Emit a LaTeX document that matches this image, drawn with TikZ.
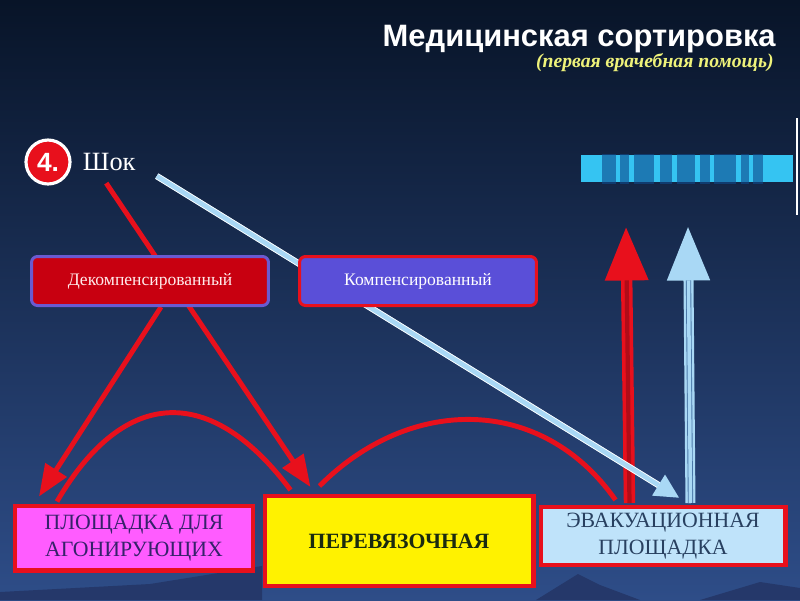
\documentclass[tikz,border=0pt]{standalone}
\usepackage{fontspec}
\setmainfont{Liberation Serif}
\newfontfamily\headfont{Liberation Sans}
\usetikzlibrary{positioning,shapes,arrows.meta}

\definecolor{bgtop}{HTML}{081428}
\definecolor{bgmid}{HTML}{0D2C5C}
\definecolor{bgbottom}{HTML}{2E4D88}
\definecolor{mountain}{HTML}{25386A}
\definecolor{sortred}{HTML}{E8101C}
\definecolor{shaftred}{HTML}{B00C18}
\definecolor{decompfill}{HTML}{C80010}
\definecolor{decompline}{HTML}{6A5AD0}
\definecolor{compfill}{HTML}{5A4FD8}
\definecolor{agonfill}{HTML}{FF5CFF}
\definecolor{agontext}{HTML}{36226A}
\definecolor{perevtext}{HTML}{1A2A10}
\definecolor{evacfill}{HTML}{BFE3FA}
\definecolor{evactext}{HTML}{284060}
\definecolor{paleblue}{HTML}{A9D8F5}
\definecolor{steel}{HTML}{4A78A8}
\definecolor{bannerblue}{HTML}{35C4F2}
\definecolor{bannerink}{HTML}{0E4A8C}
\definecolor{subyellow}{HTML}{EEF27A}

\pgfdeclarelayer{bg}
\pgfdeclarelayer{lines}
\pgfsetlayers{bg,lines,main}

\begin{document}
\begin{tikzpicture}
  [x=0.02cm, y=-0.02cm,
   every node/.style={inner sep=0pt, align=center},
   menu/.style={draw, rounded corners=3.4pt, line width=1.7pt, minimum width=4.74cm,
     minimum height=0.98cm, font=\fontsize{10}{12}\selectfont},
   site/.style={draw=sortred, line width=2.3pt, font=\fontsize{12.4}{15.4}\selectfont},
   redarrow/.style={draw=sortred, line width=2.8pt, -{Triangle[length=18pt,width=14pt]}},
   redarc/.style={draw=sortred, line width=2.8pt},
   bigtip/.style={-{Triangle[length=31pt,width=23pt]}}]

  \useasboundingbox (0,0) rectangle (800,600);

  % background and hills
  \begin{pgfonlayer}{bg}
    \shade[top color=bgtop, middle color=bgmid, bottom color=bgbottom] (0,0) rectangle (800,600);
    \fill[mountain] (0,600) -- (0,592) -- (150,584) -- (262,566) -- (262,600) -- cycle;
    \fill[mountain] (536,600) -- (578,574) -- (600,585) -- (640,600) -- cycle;
    \fill[mountain] (700,600) -- (760,582) -- (800,588) -- (800,600) -- cycle;
  \end{pgfonlayer}

  % heading
  \node[anchor=base east, text=white, font=\headfont\bfseries\fontsize{17.6}{20}\selectfont]
    (title) at (776,46) {Медицинская сортировка};
  \node[anchor=east, text=subyellow, font=\bfseries\itshape\fontsize{11.2}{12}\selectfont]
    (subtitle) at (774,63) {(первая врачебная помощь)};

  % banner at top right
  \node[fill=bannerblue, minimum width=4.26cm, minimum height=0.54cm] (banner) at (687,168) {};
  \foreach \x/\w in {602/14,620/9,634/20,660/12,677/18,700/10,714/22,741/8,753/10}
    \fill[bannerink, opacity=.6] (\x,154) rectangle +(\w,30);
  \draw[white, line width=0.8pt] (797,118) -- (797,215);

  % shock
  \node[circle, fill=sortred, draw=white, line width=1.8pt, minimum size=0.88cm, text=white,
    font=\headfont\bfseries\fontsize{15}{15}\selectfont] (num) at (48,162) {4.};
  \node[text=white, font=\fontsize{15}{15}\selectfont, right=0.22cm of num] (shok) {Шок};

  \node[menu, draw=decompline, fill=decompfill, text=red!8] (decomp) at (150,281) {Декомпенсированный};
  \node[menu, draw=sortred, fill=compfill, text=white] (comp) at (418,281) {Компенсированный};

  % sites
  \node[site, fill=agonfill, text=agontext, minimum width=4.76cm, minimum height=1.30cm]
    (agon) at (134,538) {ПЛОЩАДКА ДЛЯ\\АГОНИРУЮЩИХ};
  \node[site, fill=yellow, text=perevtext, font=\bfseries\fontsize{12.4}{14}\selectfont,
    minimum width=5.38cm, minimum height=1.80cm] (perev) at (399,541) {ПЕРЕВЯЗОЧНАЯ};
  \node[site, fill=evacfill, text=evactext, minimum width=4.90cm, minimum height=1.16cm]
    (evac) at (663,536) {ЭВАКУАЦИОННАЯ\\ПЛОЩАДКА};

  \coordinate (redtip) at (626,226);
  \coordinate (bluetip) at (688,226);

  \begin{pgfonlayer}{lines}
    \draw[redarrow] ([xshift=-0.06cm, yshift=-0.24cm]shok.south) -- ([xshift=0.96cm, yshift=0.14cm]perev.north west);
    \draw[redarrow] ([xshift=0.22cm]decomp.south) -- ([xshift=0.52cm, yshift=0.14cm]agon.north west);
    \draw[redarc] ([xshift=0.88cm, yshift=0.04cm]agon.north west) .. controls (125,385) and (212,385) .. ([xshift=0.56cm, yshift=0.08cm]perev.north west);
    \draw[redarc] ([xshift=1.14cm, yshift=0.16cm]perev.north west) .. controls (410,395) and (542,395) .. ([xshift=1.54cm, yshift=0.1cm]evac.north west);

    % vertical arrows
    \draw[sortred, line width=6.5pt, bigtip] ([xshift=1.82cm, yshift=0.04cm]evac.north west) -- (redtip);
    \draw[shaftred, line width=2.4pt, shorten >=31pt] ([xshift=1.82cm, yshift=0.04cm]evac.north west) -- (redtip);
    \draw[paleblue, line width=5.7pt, bigtip] ([xshift=3.04cm, yshift=0.04cm]evac.north west) -- (bluetip);
    \draw[steel, line width=0.5pt, double=paleblue, double distance=2pt, shorten >=31pt]
      ([xshift=3.04cm, yshift=0.04cm]evac.north west) -- (bluetip);

    % shock to evacuation
    \draw[paleblue, line width=3.4pt, -{Triangle[length=14pt,width=13pt]}]
      ([xshift=0.42cm, yshift=-0.1cm]shok.south east) -- ([xshift=2.82cm, yshift=0.14cm]evac.north west);
    \draw[white, line width=0.5pt, double=paleblue, double distance=2.6pt, shorten >=14pt]
      ([xshift=0.42cm, yshift=-0.1cm]shok.south east) -- ([xshift=2.82cm, yshift=0.14cm]evac.north west);
  \end{pgfonlayer}
\end{tikzpicture}
\end{document}
